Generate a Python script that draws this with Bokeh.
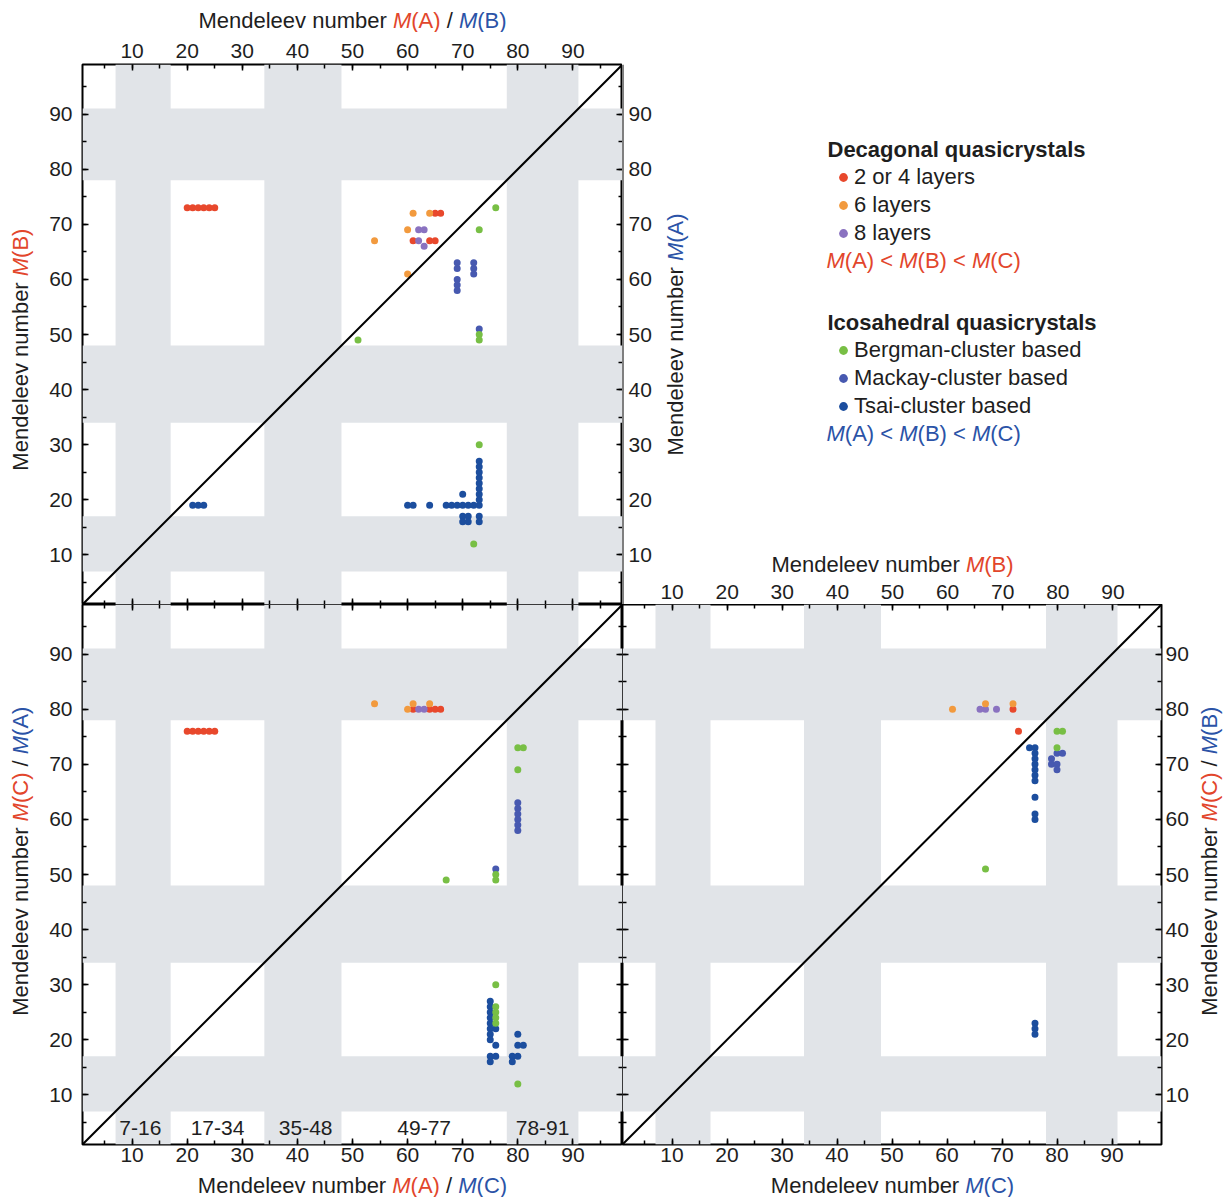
import math
import numpy as np
from bokeh.plotting import figure
from bokeh.models import (Range1d, LinearAxis, SingleIntervalTicker, Label, Slope, Span,
                          Legend, LegendItem)
from bokeh.layouts import column, row
from bokeh.core.properties import value
from bokeh.embed import file_html
from bokeh.resources import INLINE

# ---------------- data (Mendeleev numbers) ----------------
# Panel 1 (top left): decagonal x=M(A), y=M(B); icosahedral x=M(B), y=M(A)
P1_D24_X = [20, 21, 22, 23, 24, 25, 65, 66, 61, 64, 65]
P1_D24_Y = [73, 73, 73, 73, 73, 73, 72, 72, 67, 67, 67]
P1_D6_X = [61, 64, 60, 54, 60]
P1_D6_Y = [72, 72, 69, 67, 61]
P1_D8_X = [62, 63, 62, 63]
P1_D8_Y = [69, 69, 67, 66]
P1_BG_X = [76, 73, 51, 73, 73, 73, 72]
P1_BG_Y = [73, 69, 49, 50, 49, 30, 12]
P1_MK_X = [69, 69, 69, 69, 69, 72, 72, 72, 73]
P1_MK_Y = [63, 62, 60, 59, 58, 63, 62, 61, 51]
P1_TS_X = [21, 22, 23, 60, 61, 64, 67, 68, 69, 70, 71, 72, 73, 70,
           73, 73, 73, 73, 73, 73, 73, 73, 70, 71, 70, 71, 73, 73]
P1_TS_Y = [19, 19, 19, 19, 19, 19, 19, 19, 19, 19, 19, 19, 19, 21,
           20, 21, 22, 23, 24, 25, 26, 27, 17, 17, 16, 16, 17, 16]

# Panel 2 (bottom left): decagonal x=M(A), y=M(C); icosahedral x=M(C), y=M(A)
P2_D24_X = [20, 21, 22, 23, 24, 25, 61, 64, 65, 66]
P2_D24_Y = [76, 76, 76, 76, 76, 76, 80, 80, 80, 80]
P2_D6_X = [54, 60, 61, 64]
P2_D6_Y = [81, 80, 81, 81]
P2_D8_X = [62, 63]
P2_D8_Y = [80, 80]
P2_BG_X = [80, 81, 80, 67, 76, 76, 76, 76, 76, 76, 76, 80]
P2_BG_Y = [73, 73, 69, 49, 50, 49, 30, 26, 25, 24, 23, 12]
P2_MK_X = [80, 80, 80, 80, 80, 80, 76]
P2_MK_Y = [63, 62, 61, 60, 59, 58, 51]
P2_TS_X = [75, 75, 75, 75, 75, 75, 75, 75, 76, 76, 75, 76, 75, 80, 80, 81, 79, 80, 79]
P2_TS_Y = [27, 26, 25, 24, 23, 22, 21, 20, 22, 19, 17, 17, 16, 21, 19, 19, 17, 17, 16]

# Panel 3 (bottom right): decagonal x=M(B), y=M(C); icosahedral x=M(C), y=M(B)
P3_D24_X = [73, 72]
P3_D24_Y = [76, 80]
P3_D6_X = [61, 67, 72]
P3_D6_Y = [80, 81, 81]
P3_D8_X = [66, 67, 69]
P3_D8_Y = [80, 80, 80]
P3_BG_X = [80, 81, 80, 67]
P3_BG_Y = [76, 76, 73, 51]
P3_MK_X = [80, 81, 79, 79, 80, 80]
P3_MK_Y = [72, 72, 71, 70, 70, 69]
P3_TS_X = [75, 76, 76, 76, 76, 76, 76, 76, 76, 76, 76, 76, 76, 76]
P3_TS_Y = [73, 73, 72, 71, 70, 69, 68, 67, 64, 61, 60, 23, 22, 21]

RANGE_LABELS = ["7-16", "17-34", "35-48", "49-77", "78-91"]
DEC_LABELS = ["2 or 4 layers", "6 layers", "8 layers"]
ICO_LABELS = ["Bergman-cluster based", "Mackay-cluster based", "Tsai-cluster based"]

# ---------------- style ----------------
FONT = "Liberation Sans"
INK = "#1e1e1e"
RED_T = "#e2462c"
BLUE_T = "#2b53a7"
C_D24 = "#e8482c"
C_D6 = "#f29a3e"
C_D8 = "#8a72c0"
C_BG = "#78bf45"
C_MK = "#4759b0"
C_TS = "#1c4e9e"
BAND = "#e1e4e8"
BAND_LO = [7, 34, 78]
BAND_HI = [17, 48, 91]

FR = 540          # frame size
LS = 40           # left strip (rotated titles)
LB = 42           # left border (tick labels)
T_H = 32          # top strip
TB = 32           # top border (tick labels)
BB = 28           # bottom border (tick labels)
BOT_H = 25        # bottom strip
RBC = 29          # right border of bottom-right panel
RS = 34           # right strip
RBH = 60

W = {' ': 278, '(': 333, ')': 333, '/': 278, '<': 584, 'A': 667, 'B': 667, 'C': 722,
     'M': 833, 'b': 556, 'd': 556, 'e': 556, 'l': 222, 'm': 833, 'n': 556, 'r': 333,
     'u': 556, 'v': 500}


def tw(s, size):
    return sum(W.get(c, 556) for c in s) * size / 1000.0


def rich(p, x, y, segs, size=22, angle=0.0, center=True, dx=0.0, dy=0.0):
    total = sum(tw(s, size) for s, _, _ in segs)
    pos = -total / 2 if center else 0.0
    for s, col, style in segs:
        lead = len(s) - len(s.lstrip(' '))
        body = s.strip(' ')
        off = pos + tw(' ' * lead, size)
        if body:
            if angle == 0:
                xo, yo = dx + off, dy
            else:
                xo, yo = dx, dy + off
            p.add_layout(Label(x=x, y=y, x_offset=xo, y_offset=yo, text=body,
                               text_color=col, text_font=FONT, text_font_style=style,
                               text_font_size=f"{size}px", text_align="left",
                               text_baseline="middle", angle=angle))
        pos += tw(s, size)


MN = [("Mendeleev number ", INK, "normal")]
SL = [(" / ", INK, "normal")]


def mm(tag, col):
    return [("M", col, "italic"), (f"({tag})", col, "normal")]


def base(width, height, left, right, top, bottom, xr, yr, outline):
    p = figure(width=width, height=height, x_range=xr, y_range=yr,
               x_axis_location=None, y_axis_location=None, toolbar_location=None,
               output_backend="svg", min_border_left=left, min_border_right=right,
               min_border_top=top, min_border_bottom=bottom)
    p.grid.visible = False
    p.background_fill_color = "white"
    p.border_fill_color = "white"
    p.outline_line_color = "black" if outline else None
    p.outline_line_width = 2
    return p


def panel(width, height, left, right, top, bottom, outline=True):
    return base(width, height, left, right, top, bottom, Range1d(1, 99), Range1d(1, 99), outline)


def strip(width, height):
    return base(width, height, 0, 0, 0, 0, Range1d(0, width), Range1d(0, height), False)


def axis(labels=True, ticks=True, fixed=None, standoff=6):
    ax = LinearAxis(ticker=SingleIntervalTicker(interval=10, num_minor_ticks=2))
    ax.axis_line_color = None
    ax.major_tick_out = 0
    ax.minor_tick_out = 0
    ax.major_tick_in = 6 if ticks else 0
    ax.minor_tick_in = 4 if ticks else 0
    ax.major_tick_line_color = "black" if ticks else None
    ax.minor_tick_line_color = "black" if ticks else None
    ax.major_tick_line_width = 1.5
    ax.minor_tick_line_width = 1.5
    ax.major_label_standoff = standoff
    ax.major_label_text_font = FONT
    ax.major_label_text_font_size = "21px"
    ax.major_label_text_color = INK if labels else None
    ax.fixed_location = fixed
    return ax


def decorate(p):
    p.quad(left=BAND_LO, right=BAND_HI, bottom=1, top=99, fill_color=BAND, line_color=None)
    p.quad(left=1, right=99, bottom=BAND_LO, top=BAND_HI, fill_color=BAND, line_color=None)
    p.add_layout(Slope(gradient=1, y_intercept=0, line_color="black", line_width=2))


def dots(p, sets):
    for xs, ys, col in sets:
        p.scatter(x=xs, y=ys, size=7, fill_color=col, line_color=None)


# ---------------- figures ----------------
T = strip(LS + LB + FR, T_H)
LSA = strip(LS, TB + FR)
A = panel(LB + FR, TB + FR, LB, 0, TB, 0)
H = panel(FR + RBH, TB + FR, 0, RBH, TB, 0, outline=False)
LSB = strip(LS, FR + BB)
B = panel(LB + FR, FR + BB, LB, 0, 0, BB)
C = panel(FR + RBC, FR + BB, 0, RBC, 0, BB)
RSC = strip(RS, FR + BB)
BOT = strip(LS + LB + 2 * FR + RBC + RS, BOT_H)

for p in (A, B, C):
    decorate(p)

dots(A, [(P1_TS_X, P1_TS_Y, C_TS), (P1_MK_X, P1_MK_Y, C_MK), (P1_BG_X, P1_BG_Y, C_BG),
         (P1_D24_X, P1_D24_Y, C_D24), (P1_D8_X, P1_D8_Y, C_D8), (P1_D6_X, P1_D6_Y, C_D6)])
dots(B, [(P2_TS_X, P2_TS_Y, C_TS), (P2_MK_X, P2_MK_Y, C_MK), (P2_BG_X, P2_BG_Y, C_BG),
         (P2_D24_X, P2_D24_Y, C_D24), (P2_D8_X, P2_D8_Y, C_D8), (P2_D6_X, P2_D6_Y, C_D6)])
dots(C, [(P3_TS_X, P3_TS_Y, C_TS), (P3_MK_X, P3_MK_Y, C_MK), (P3_BG_X, P3_BG_Y, C_BG),
         (P3_D24_X, P3_D24_Y, C_D24), (P3_D8_X, P3_D8_Y, C_D8), (P3_D6_X, P3_D6_Y, C_D6)])

# axes: labelled ones in the side panels, tick-only ones pinned to the frame edge
A.add_layout(axis(standoff=7), "above")
A.add_layout(axis(standoff=10), "left")
A.add_layout(axis(labels=False, fixed=1), "below")
A.add_layout(axis(labels=False, fixed=99), "right")

H.add_layout(axis(ticks=False, fixed=1, standoff=6), "right")
H.add_layout(axis(ticks=False, fixed=1, standoff=6), "above")
H.add_layout(Span(location=1, dimension="height", line_color="black", line_width=2))

B.add_layout(axis(standoff=10), "left")
B.add_layout(axis(standoff=3), "below")
B.add_layout(axis(labels=False, fixed=99), "above")
B.add_layout(axis(labels=False, fixed=99), "right")

C.add_layout(axis(standoff=3), "below")
C.add_layout(axis(standoff=4), "right")
C.add_layout(axis(labels=False, fixed=99), "above")
C.add_layout(axis(labels=False, fixed=1), "left")

# range labels along the bottom of panel 2
range_x = [(int(a) + int(b)) / 2 for a, b in (s.split("-") for s in RANGE_LABELS)]
B.text(x=range_x, y=4.0, text=RANGE_LABELS, text_font=value(FONT), text_font_size="21px",
       text_align="center", text_baseline="middle", text_color=INK)

# axis titles (multi-coloured), placed in strips / inside frames
HALF = math.pi / 2
rich(T, LS + LB + FR / 2, T_H - 19.5, MN + mm("A", RED_T) + SL + mm("B", BLUE_T))
rich(LSA, 20, FR / 2, MN + mm("B", RED_T), angle=HALF)
rich(LSB, 20, BB + FR / 2, MN + mm("C", RED_T) + SL + mm("A", BLUE_T), angle=HALF)
rich(RSC, 18, BB + FR / 2, MN + mm("C", RED_T) + SL + mm("B", BLUE_T), angle=HALF)
rich(BOT, LS + LB + FR / 2, BOT_H / 2, MN + mm("A", RED_T) + SL + mm("C", BLUE_T))
rich(BOT, LS + LB + FR + FR / 2, BOT_H / 2, MN + mm("C", BLUE_T))
rich(H, 1, 50, MN + mm("A", BLUE_T), angle=HALF, dx=53)
rich(H, 50, 1, MN + mm("B", RED_T), dy=40)


# legend (in the upper right area)
def legend(p, labels, colors, loc):
    items = []
    for lab, col in zip(labels, colors):
        r = p.scatter(x=np.array([np.nan]), y=np.array([np.nan]), size=7,
                      fill_color=col, line_color=None)
        items.append(LegendItem(label=lab, renderers=[r]))
    lg = Legend(items=items, location=loc, orientation="vertical", glyph_width=22,
                glyph_height=22, label_standoff=0, spacing=2, padding=0, margin=0,
                label_height=25, label_text_font=FONT, label_text_font_size="22px",
                label_text_color=INK, background_fill_alpha=0, border_line_color=None)
    p.add_layout(lg)


legend(H, DEC_LABELS, [C_D24, C_D6, C_D8], (210, 358))
legend(H, ICO_LABELS, [C_BG, C_MK, C_TS], (210, 185))


def order_line(col):
    return [("M", col, "italic"), ("(A) < ", col, "normal"), ("M", col, "italic"),
            ("(B) < ", col, "normal"), ("M", col, "italic"), ("(C)", col, "normal")]


H.add_layout(Label(x=1, y=1, x_offset=205, y_offset=455, text="Decagonal quasicrystals",
                   text_font=FONT, text_font_style="bold", text_font_size="22px",
                   text_color=INK, text_baseline="middle"))
rich(H, 1, 1, order_line(RED_T), center=False, dx=204, dy=344)
H.add_layout(Label(x=1, y=1, x_offset=205, y_offset=282, text="Icosahedral quasicrystals",
                   text_font=FONT, text_font_style="bold", text_font_size="22px",
                   text_color=INK, text_baseline="middle"))
rich(H, 1, 1, order_line(BLUE_T), center=False, dx=204, dy=171)

layout = column(T, row(LSA, A, H), row(LSB, B, C, RSC), BOT)
open("out.html", "w").write(file_html(layout, INLINE))
